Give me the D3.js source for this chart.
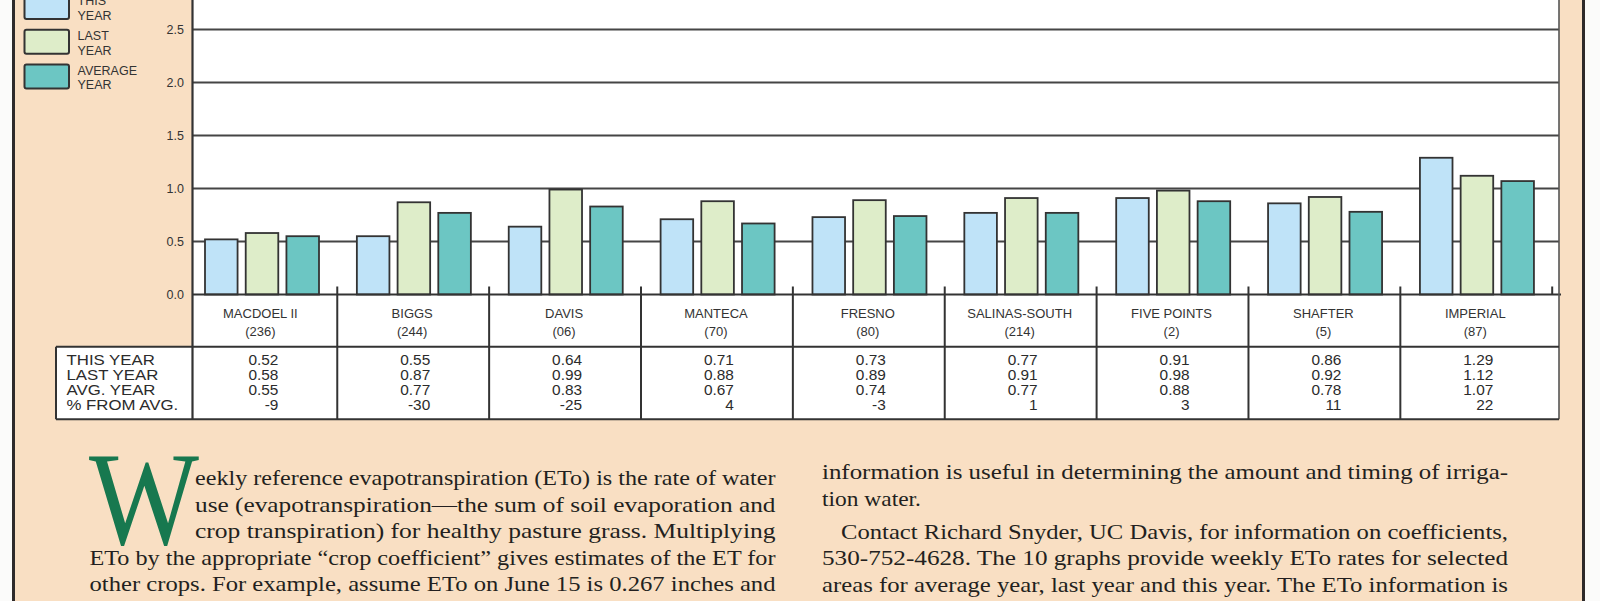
<!DOCTYPE html>
<html><head><meta charset="utf-8">
<script src="https://cdn.jsdelivr.net/npm/d3@7"></script>
<style>
html,body{margin:0;padding:0;background:#fff;}
svg{display:block;}
</style></head><body>
<svg id="chart" width="1600" height="601"></svg>
<script>
// ---------- data ----------
const stations = ["MACDOEL II","BIGGS","DAVIS","MANTECA","FRESNO","SALINAS-SOUTH","FIVE POINTS","SHAFTER","IMPERIAL"];
const stationCodes = ["(236)","(244)","(06)","(70)","(80)","(214)","(2)","(5)","(87)"];
const seriesKeys = ["this","last","avg"];
const thisYear = [0.52,0.55,0.64,0.71,0.73,0.77,0.91,0.86,1.29];
const lastYear = [0.58,0.87,0.99,0.88,0.89,0.91,0.98,0.92,1.12];
const avgYear  = [0.55,0.77,0.83,0.67,0.74,0.77,0.88,0.78,1.07];
const pctFromAvg = [-9,-30,-25,4,-3,1,3,11,22];
const yTicks = [0,0.5,1.0,1.5,2.0,2.5,3.0];
const yTickLabels = [0,0.5,1.0,1.5,2.0,2.5];
const rowLabels = ["THIS YEAR","LAST YEAR","AVG. YEAR","% FROM AVG."];
const legendLabels = [["THIS","YEAR"],["LAST","YEAR"],["AVERAGE","YEAR"]];
const colors = ["#bfe3f8","#deedc9","#6cc6c3"];
const bodyLeft = [
  "eekly reference evapotranspiration (ETo) is the rate of water",
  "use (evapotranspiration\u2014the sum of soil evaporation and",
  "crop transpiration) for healthy pasture grass. Multiplying",
  "ETo by the appropriate \u201ccrop coefficient\u201d gives estimates of the ET for",
  "other crops. For example, assume ETo on June 15 is 0.267 inches and"
];
const bodyRight = [
  "information is useful in determining the amount and timing of irriga-",
  "tion water.",
  "Contact Richard Snyder, UC Davis, for information on coefficients,",
  "530-752-4628. The 10 graphs provide weekly ETo rates for selected",
  "areas for average year, last year and this year. The ETo information is"
];

// ---------- layout ----------
const svg = d3.select("#chart");
const plotL = 192.5, plotR = 1559, tableL = 56;
const axisY = 294.5, labelRowB = 346.7, tableB = 419.3;

const y = d3.scaleLinear().domain([0, 2.5]).range([axisY, 29.5]);
const x = d3.scaleBand().domain(stations).range([185.4, 1552.2]).paddingInner(0).paddingOuter(0);
const xs = d3.scaleBand().domain(seriesKeys).range([19.6, 133.6]).paddingInner(0.2).paddingOuter(0);

const rows = stations.map((s, i) => ({station: s, code: stationCodes[i],
  vals: [thisYear[i], lastYear[i], avgYear[i]], pct: pctFromAvg[i]}));

// background
svg.append("rect").attr("x",0).attr("y",0).attr("width",1600).attr("height",601).attr("fill","#fbfbfa");
svg.append("rect").attr("x",14).attr("y",0).attr("width",1569).attr("height",601).attr("fill","#f9dfc3");
svg.append("line").attr("x1",13.5).attr("x2",13.5).attr("y1",0).attr("y2",601).attr("stroke","#2e2a2a").attr("stroke-width",3);
svg.append("line").attr("x1",1583.5).attr("x2",1583.5).attr("y1",0).attr("y2",601).attr("stroke","#2e2a2a").attr("stroke-width",3);

// white areas
svg.append("rect").attr("x",plotL).attr("y",-5).attr("width",plotR-plotL).attr("height",labelRowB+5).attr("fill","#fff");
svg.append("rect").attr("x",tableL).attr("y",labelRowB).attr("width",plotR-tableL).attr("height",tableB-labelRowB).attr("fill","#fff");

// gridlines
svg.append("g").selectAll("line").data(yTicks.filter(d => d > 0)).join("line")
  .attr("x1", plotL).attr("x2", plotR)
  .attr("y1", d => y(d)).attr("y2", d => y(d))
  .attr("stroke", "#454545").attr("stroke-width", 2);

// y tick labels
svg.append("g").selectAll("text").data(yTickLabels).join("text")
  .attr("x", 184).attr("y", d => y(d)).attr("dy", "0.36em")
  .attr("text-anchor", "end")
  .attr("font-family", "Liberation Sans, Arial, sans-serif").attr("font-size", 12.5)
  .attr("fill", "#333")
  .text(d => d.toFixed(1));

// bars
const groups = svg.append("g").selectAll("g").data(rows).join("g")
  .attr("transform", d => `translate(${x(d.station)},0)`);
groups.selectAll("rect").data(d => d.vals.map((v, k) => ({key: seriesKeys[k], v, k}))).join("rect")
  .attr("x", d => xs(d.key)).attr("width", xs.bandwidth())
  .attr("y", d => y(d.v)).attr("height", d => y(0) - y(d.v))
  .attr("fill", d => colors[d.k]).attr("stroke", "#333").attr("stroke-width", 1.8);

// x axis baseline
svg.append("line").attr("x1", plotL).attr("x2", plotR + 2).attr("y1", axisY).attr("y2", axisY)
  .attr("stroke", "#333").attr("stroke-width", 2);

// ticks / dividers at band boundaries
const bounds = stations.map(s => x(s)).slice(1).concat([x(stations[stations.length-1]) + x.step()]);
svg.append("g").selectAll("line").data(bounds).join("line")
  .attr("x1", d => d).attr("x2", d => d)
  .attr("y1", axisY - 8)
  .attr("y2", (d, i) => i < bounds.length - 1 ? tableB : axisY)
  .attr("stroke", "#333").attr("stroke-width", 2);

// frame lines
svg.append("line").attr("x1", plotL).attr("x2", plotL).attr("y1", -5).attr("y2", tableB).attr("stroke", "#333").attr("stroke-width", 2.2);
svg.append("line").attr("x1", plotR).attr("x2", plotR).attr("y1", -5).attr("y2", tableB).attr("stroke", "#555").attr("stroke-width", 1.6);
svg.append("line").attr("x1", tableL).attr("x2", plotR).attr("y1", labelRowB).attr("y2", labelRowB).attr("stroke", "#333").attr("stroke-width", 2);
svg.append("line").attr("x1", tableL).attr("x2", plotR).attr("y1", tableB).attr("y2", tableB).attr("stroke", "#333").attr("stroke-width", 2);
svg.append("line").attr("x1", tableL).attr("x2", tableL).attr("y1", labelRowB).attr("y2", tableB).attr("stroke", "#333").attr("stroke-width", 2);

// category labels
const catG = svg.append("g").attr("font-family", "Liberation Sans, Arial, sans-serif")
  .attr("font-size", 13).attr("fill", "#333").attr("text-anchor", "middle");
catG.selectAll("text.name").data(rows).join("text").attr("class","name")
  .attr("x", d => x(d.station) + x.bandwidth()/2 - 1).attr("y", 317.5).text(d => d.station);
catG.selectAll("text.code").data(rows).join("text").attr("class","code")
  .attr("x", d => x(d.station) + x.bandwidth()/2 - 1).attr("y", 335.5).text(d => d.code);

// table rows
const rowY = [365, 380, 394.7, 409.5];
const tabFont = "Liberation Sans, Arial, sans-serif";
svg.append("g").selectAll("text").data(rowLabels).join("text")
  .attr("transform", (d, i) => `translate(66.5,${rowY[i]}) scale(1.2,1)`)
  .attr("font-family", tabFont).attr("font-size", 14).attr("fill", "#2b2b2b")
  .text(d => d);
const cells = [];
rows.forEach(r => {
  const cx = x(r.station) + x.bandwidth()/2 + 17;
  r.vals.forEach((v, k) => cells.push({x: cx, y: rowY[k], t: v.toFixed(2)}));
  cells.push({x: cx, y: rowY[3], t: String(r.pct)});
});
svg.append("g").selectAll("text").data(cells).join("text")
  .attr("transform", d => `translate(${d.x},${d.y}) scale(1.1,1)`)
  .attr("text-anchor", "end")
  .attr("font-family", tabFont).attr("font-size", 14).attr("fill", "#2b2b2b")
  .text(d => d.t);

// legend
const leg = svg.append("g").selectAll("g").data(legendLabels).join("g")
  .attr("transform", (d, i) => `translate(0,${i * 34.7})`);
leg.append("rect").attr("x", 24.5).attr("y", -5).attr("width", 44.5).attr("height", 24)
  .attr("rx", 2).attr("fill", (d, i) => colors[i]).attr("stroke", "#333").attr("stroke-width", 2);
leg.append("text").attr("x", 77.5).attr("y", 5.2).attr("font-family", "Liberation Sans, Arial, sans-serif")
  .attr("font-size", 12.5).attr("fill", "#333").text(d => d[0]);
leg.append("text").attr("x", 77.5).attr("y", 20).attr("font-family", "Liberation Sans, Arial, sans-serif")
  .attr("font-size", 12.5).attr("fill", "#333").text(d => d[1]);

// body text
const serif = "Liberation Serif, Times New Roman, serif";
svg.append("text").attr("x", 89).attr("y", 544).attr("font-family", serif).attr("font-size", 133)
  .attr("fill", "#17784f").attr("textLength", 110).attr("lengthAdjust", "spacingAndGlyphs").text("W");

const leftSpec = [
  {x: 195, y: 485, w: 580.5},
  {x: 195, y: 511.5, w: 580.5},
  {x: 195, y: 538, w: 580.5},
  {x: 89.5, y: 564.5, w: 686},
  {x: 89.5, y: 591, w: 686}
];
const rightSpec = [
  {x: 822, y: 478.5, w: 686},
  {x: 822, y: 506, w: 99},
  {x: 841, y: 538.5, w: 667},
  {x: 822, y: 565, w: 686},
  {x: 822, y: 591.5, w: 686}
];
function body(lines, spec) {
  svg.append("g").selectAll("text").data(lines).join("text")
    .attr("x", (d, i) => spec[i].x).attr("y", (d, i) => spec[i].y)
    .attr("font-family", serif).attr("font-size", 21).attr("fill", "#231f20")
    .attr("textLength", (d, i) => spec[i].w)
    .attr("lengthAdjust", "spacingAndGlyphs")
    .text(d => d);
}
body(bodyLeft, leftSpec);
body(bodyRight, rightSpec);
</script>
</body></html>
